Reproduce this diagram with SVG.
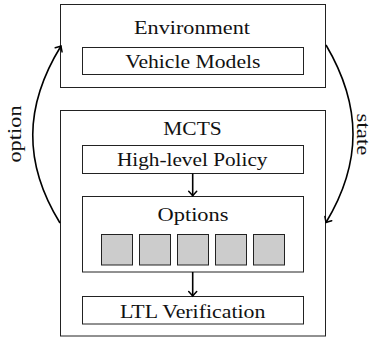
<svg xmlns="http://www.w3.org/2000/svg" width="370" height="337" viewBox="0 0 370 337">
<style>
.box{fill:#fff;stroke:#222;stroke-width:1}
.opt{fill:#cccccc;stroke:#222;stroke-width:1}
.t{font-family:'Liberation Serif','Times New Roman',serif;font-size:19px;fill:#111;text-anchor:middle}
.edge{fill:none;stroke:#000;stroke-width:1.6}
</style>
<defs>
<marker id="ah" markerUnits="userSpaceOnUse" markerWidth="12" markerHeight="12" viewBox="-6 -6 12 12" refX="0" refY="0" orient="auto">
<path d="M -4.5 -4 Q -1.2 -1 0 0 Q -1.2 1 -4.5 4" fill="none" stroke="#000" stroke-width="1.5" stroke-linecap="round"/>
</marker>
</defs>
<g id="environment">
<rect class="box" x="60.5" y="4.5" width="265" height="83"/>
<text class="t" transform="translate(192,34) scale(1.17,1)">Environment</text>
</g>
<g id="vehicle-models">
<rect class="box" x="82.5" y="47.5" width="221" height="27"/>
<text class="t" transform="translate(192.8,68.3) scale(1.14,1)">Vehicle Models</text>
</g>
<g id="mcts">
<rect class="box" x="60.5" y="110.5" width="265" height="225.5"/>
<text class="t" transform="translate(192.5,135) scale(1.13,1)">MCTS</text>
</g>
<g id="high-level-policy">
<rect class="box" x="82.5" y="145.5" width="221" height="28"/>
<text class="t" transform="translate(192.2,166) scale(1.12,1)">High-level Policy</text>
</g>
<g id="options">
<rect class="box" x="82.5" y="196.5" width="221" height="75.5"/>
<text class="t" transform="translate(193,221) scale(1.18,1)">Options</text>
<rect class="opt" x="101.5" y="234.5" width="31" height="30.5"/>
<rect class="opt" x="139.5" y="234.5" width="31" height="30.5"/>
<rect class="opt" x="177.5" y="234.5" width="31" height="30.5"/>
<rect class="opt" x="215.5" y="234.5" width="31" height="30.5"/>
<rect class="opt" x="253.5" y="234.5" width="31" height="30.5"/>
</g>
<g id="ltl-verification">
<rect class="box" x="82.5" y="296.5" width="221" height="27.5"/>
<text class="t" transform="translate(192.7,317.5) scale(1.15,1)">LTL Verification</text>
</g>
<g id="connectors">
<line class="edge" x1="192.7" y1="173.5" x2="192.7" y2="195.8" marker-end="url(#ah)"/>
<line class="edge" x1="192.7" y1="272" x2="192.7" y2="296" marker-end="url(#ah)"/>
<path class="edge" d="M 60 223 C 23 163 24 106 61 46" marker-end="url(#ah)"/>
<path class="edge" d="M 326 45 C 362 106 362 163 326 222.5" marker-end="url(#ah)"/>
<text class="t" transform="translate(20.5,134) rotate(-90) scale(1.18,1)">option</text>
<text class="t" transform="translate(357,134.5) rotate(90) scale(1.2,1)">state</text>
</g>
</svg>
